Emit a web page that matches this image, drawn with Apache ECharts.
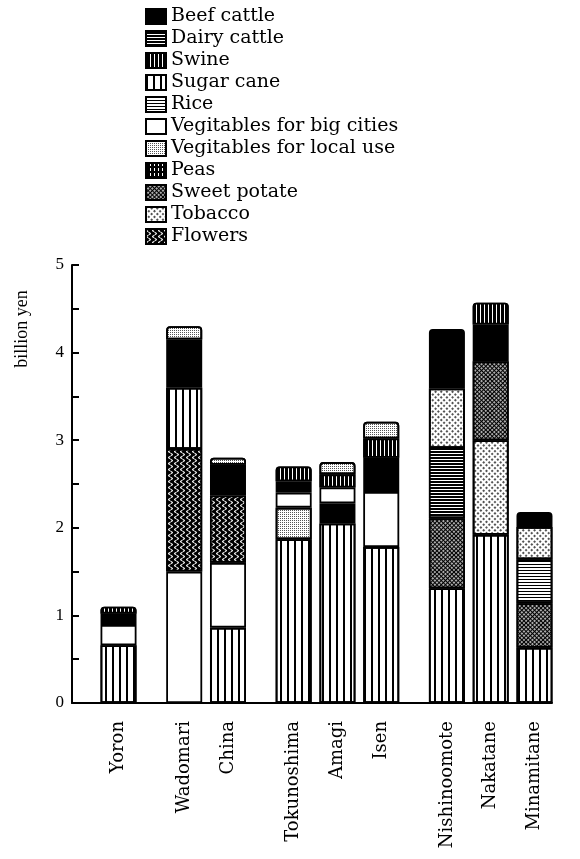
<!DOCTYPE html>
<html>
<head>
<meta charset="utf-8">
<script src="https://cdn.jsdelivr.net/npm/echarts@6/dist/echarts.min.js"></script>
<style>
	html, body { margin: 0; padding: 0; background: #fff; }
	#main { width: 580px; height: 859px; }
</style>
</head>
<body>
<div id="main"></div>
<script>
// 各町村
var towns = ['Yoron', 'Wadomari', 'China', 'Tokunoshima', 'Amagi', 'Isen', 'Nishinoomote', 'Nakatane', 'Minamitane'];
var townPos = [0, 3, 5, 8, 10, 12, 15, 17, 19]; // bars sit in three groups

// billion yen, one value per town
var beefCattle = [0.13, 0.55, 0.35, 0.13, 0.23, 0.39, 0.68, 0.42, 0.17];
var dairyCattle = [0, 0, 0, 0, 0, 0, 0.80, 0, 0];
var swine = [0.08, 0, 0, 0.17, 0.15, 0.22, 0, 0.25, 0];
var sugarCane = [0.66, 0.70, 0.86, 1.87, 2.05, 1.78, 1.31, 1.92, 0.63];
var rice = [0, 0, 0, 0, 0, 0, 0, 0, 0.50];
var vegBigCities = [0.23, 1.50, 0.74, 0.17, 0.18, 0.63, 0, 0, 0];
var vegLocalUse = [0, 0.15, 0.08, 0.36, 0.14, 0.19, 0, 0, 0];
var peas = [0, 0, 0, 0, 0, 0, 0, 0, 0];
var sweetPotato = [0, 0, 0, 0, 0, 0, 0.80, 0.90, 0.51];
var tobacco = [0, 0, 0, 0, 0, 0, 0.68, 1.08, 0.37];
var flowers = [0, 1.40, 0.77, 0, 0, 0, 0, 0, 0];

// stacking order inside each bar, bottom first (it differs per town)
var stackOrder = [
	['sugar', 'vegBig', 'beef', 'swine'],
	['vegBig', 'flowers', 'sugar', 'beef', 'vegLocal'],
	['sugar', 'vegBig', 'flowers', 'beef', 'vegLocal'],
	['sugar', 'vegLocal', 'vegBig', 'beef', 'swine'],
	['sugar', 'beef', 'vegBig', 'swine', 'vegLocal'],
	['sugar', 'vegBig', 'beef', 'swine', 'vegLocal'],
	['sugar', 'sweetPotato', 'dairy', 'tobacco', 'beef'],
	['sugar', 'tobacco', 'sweetPotato', 'beef', 'swine'],
	['sugar', 'sweetPotato', 'rice', 'tobacco', 'beef']
];

var yTicks = [0, 1, 2, 3, 4, 5];

var commodities = [
	{ key: 'beef', name: 'Beef cattle', values: beefCattle },
	{ key: 'dairy', name: 'Dairy cattle', values: dairyCattle },
	{ key: 'swine', name: 'Swine', values: swine },
	{ key: 'sugar', name: 'Sugar cane', values: sugarCane },
	{ key: 'rice', name: 'Rice', values: rice },
	{ key: 'vegBig', name: 'Vegitables for big cities', values: vegBigCities },
	{ key: 'vegLocal', name: 'Vegitables for local use', values: vegLocalUse },
	{ key: 'peas', name: 'Peas', values: peas },
	{ key: 'sweetPotato', name: 'Sweet potate', values: sweetPotato },
	{ key: 'tobacco', name: 'Tobacco', values: tobacco },
	{ key: 'flowers', name: 'Flowers', values: flowers }
];

// 图案（黑白印刷的填充）
var wave = 'path://M2,0 C0,1 0,2 2,3 C4,4 4,5 2,6 L3.3,6 C5.3,5 5.3,4 3.3,3 C1.3,2 1.3,1 3.3,0 Z';
var fills = {
	beef: { color: '#000' },
	dairy: { color: '#000', decal: { symbol: 'rect', symbolSize: 1, color: '#fff', dashArrayX: [8, 0], dashArrayY: [1, 2] } },
	swine: { color: '#000', decal: { symbol: 'rect', symbolSize: 1, color: '#fff', dashArrayX: [1, 3], dashArrayY: [8, 0] } },
	sugar: { color: '#fff', decal: { symbol: 'rect', symbolSize: 1, color: '#000', dashArrayX: [2, 5], dashArrayY: [8, 0] } },
	rice: { color: '#fff', decal: { symbol: 'rect', symbolSize: 1, color: '#000', dashArrayX: [8, 0], dashArrayY: [1, 2] } },
	vegBig: { color: '#fff' },
	vegLocal: { color: '#fff', decal: { symbol: 'rect', symbolSize: 1, color: '#555', dashArrayX: [1, 1], dashArrayY: [1, 1] } },
	peas: { color: '#000', decal: { symbol: 'rect', symbolSize: 1, color: '#fff', dashArrayX: [1, 3], dashArrayY: [3, 2] } },
	sweetPotato: { color: '#000', decal: { symbol: 'circle', symbolSize: 0.9, color: '#fff', dashArrayX: [2, 1], dashArrayY: [2, 1], rotation: Math.PI / 4 } },
	tobacco: { color: '#fff', decal: { symbol: 'circle', symbolSize: 0.9, color: '#000', dashArrayX: [2, 2], dashArrayY: [2, 2], rotation: Math.PI / 4 } },
	flowers: { color: '#000', decal: { symbol: wave, symbolSize: 1, symbolKeepAspect: false, color: '#fff', dashArrayX: [5, 1], dashArrayY: [6, 0] } }
};

function findCommodity(key) {
	for (var i = 0; i < commodities.length; i++) {
		if (commodities[i].key == key) return commodities[i];
	}
	return null;
}

function makeStyle(key, isTop) {
	var f = fills[key];
	var s = {
		color: f.color,
		borderColor: '#000',
		borderWidth: 1.8
	};
	if (f.decal) s.decal = f.decal;
	if (isTop) s.borderRadius = [3, 3, 0, 0];
	return s;
}

var serif = 'DejaVu Serif';
var series = [];

// legend entries: empty series carrying the fill of each commodity
commodities.forEach(function(c) {
	series.push({
		name: c.name,
		type: 'bar',
		stack: 'total',
		barWidth: 36,
		encode: { x: 1, y: 0 },
		itemStyle: makeStyle(c.key, false),
		data: []
	});
});

// one stacked layer per position in the bar
// data is [value, position] so the stack runs on the value (y) dimension
var maxLayers = 0;
stackOrder.forEach(function(o) {
	if (o.length > maxLayers) maxLayers = o.length;
});
for (var l = 0; l < maxLayers; l++) {
	var layerData = [];
	for (var i = 0; i < towns.length; i++) {
		var key = stackOrder[i][l];
		if (!key) {
			layerData.push({ value: ['-', townPos[i]] });
			continue;
		}
		var c = findCommodity(key);
		layerData.push({
			value: [c.values[i], townPos[i]],
			name: c.name,
			itemStyle: makeStyle(key, l == stackOrder[i].length - 1)
		});
	}
	series.push({
		name: 'layer' + l,
		type: 'bar',
		stack: 'total',
		barWidth: 36,
		encode: { x: 1, y: 0 },
		emphasis: { disabled: true },
		data: layerData
	});
}

var myChart = echarts.init(document.getElementById('main'));
var option = {
	animation: false,
	backgroundColor: '#fff',
	legend: {
		orient: 'vertical',
		left: 140,
		top: 2,
		padding: 5,
		itemWidth: 20,
		itemHeight: 15,
		itemGap: 3,
		itemTextGap: 7,
		icon: 'rect',
		selectedMode: false,
		data: commodities.map(function(c) { return c.name; }),
		textStyle: {
			fontFamily: serif,
			fontSize: 19,
			color: '#000'
		}
	},
	graphic: [{
		type: 'text',
		x: 22,
		y: 329,
		rotation: Math.PI / 2,
		style: {
			text: 'billion yen',
			fontFamily: 'Liberation Serif',
			fontSize: 18,
			fill: '#000',
			align: 'center',
			verticalAlign: 'middle'
		}
	}],
	grid: {
		left: 72,
		right: 28,
		top: 265,
		bottom: 156,
		outerBoundsMode: 'none'
	},
	xAxis: {
		type: 'value',
		min: -2.125,
		max: 19.8,
		interval: 0.125,
		splitLine: { show: false },
		axisTick: { show: false },
		axisLine: { show: true, lineStyle: { color: '#000', width: 2 } },
		axisLabel: {
			rotate: 90,
			margin: 18,
			fontFamily: serif,
			fontSize: 18,
			color: '#000',
			showMinLabel: false,
			showMaxLabel: false,
			formatter: function(v) {
				for (var i = 0; i < townPos.length; i++) {
					if (Math.abs(v - townPos[i]) < 1e-6) return towns[i];
				}
				return '';
			}
		}
	},
	yAxis: {
		type: 'value',
		min: 0,
		max: 5,
		interval: 0.5,
		splitLine: { show: false },
		axisLine: { show: true, onZero: false, lineStyle: { color: '#000', width: 2 } },
		axisTick: { show: true, inside: true, length: 7, lineStyle: { color: '#000', width: 2 } },
		axisLabel: {
			margin: 8,
			fontFamily: 'Liberation Serif',
			fontSize: 17,
			color: '#000',
			formatter: function(v) {
				return yTicks.indexOf(v) != -1 ? String(v) : '';
			}
		}
	},
	series: series
};
myChart.setOption(option);
</script>
</body>
</html>
